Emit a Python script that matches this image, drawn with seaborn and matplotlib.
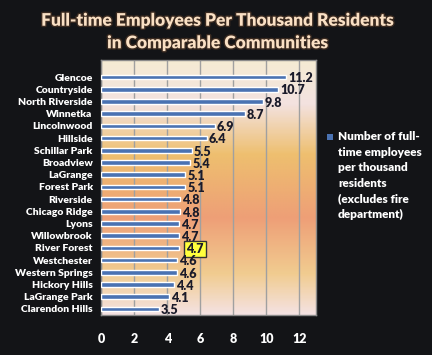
import numpy as np
import pandas as pd
import matplotlib
matplotlib.use("Agg")
import matplotlib.pyplot as plt
import matplotlib.patheffects as pe
from matplotlib.colors import LinearSegmentedColormap
from matplotlib.patches import Rectangle
import seaborn as sns

# datos del grafico
comunidades = ["Glencoe", "Countryside", "North Riverside", "Winnetka", "Lincolnwood",
               "Hillside", "Schillar Park", "Broadview", "LaGrange", "Forest Park",
               "Riverside", "Chicago Ridge", "Lyons", "Willowbrook", "River Forest",
               "Westchester", "Western Springs", "Hickory Hills", "LaGrange Park",
               "Clarendon Hills"]
empleados = [11.2, 10.7, 9.8, 8.7, 6.9, 6.4, 5.5, 5.4, 5.1, 5.1,
             4.8, 4.8, 4.7, 4.7, 4.7, 4.6, 4.6, 4.4, 4.1, 3.5]
destacado = "River Forest"
ticks_x = [0, 2, 4, 6, 8, 10, 12]
leyenda = ["Number of full-", "time employees", "per thousand", "residents",
           "(excludes fire", "department)"]

df = pd.DataFrame({"comunidad": comunidades, "valor": empleados})

sns.set_theme(style="white")
plt.rcParams['font.family'] = ['Lato', 'DejaVu Sans']

fondo = "#131417"
fig = plt.figure(figsize=(4.32, 3.55), dpi=100, facecolor=fondo)
pos = [0.2338, 0.1127, 0.4977, 0.7183]

# fondo degradado del area de trazado (vertical), en un eje aparte
cmap = LinearSegmentedColormap.from_list("fondo", [
    (0.0, "#f5ebd3"), (0.17, "#f3e2e0"), (0.37, "#eebf6f"),
    (0.62, "#ee9f77"), (0.84, "#f1cc90"), (1.0, "#f4e2e2")])
rgb = cmap(np.linspace(0, 1, 300))[:, :3]
grad = np.repeat(rgb[:, None, :], 4, axis=1)
ax_bg = fig.add_axes(pos, zorder=0)
ax_bg.imshow(grad, aspect="auto", extent=[0, 1, 0, 1], interpolation="bilinear")
ax_bg.axis("off")

ax = fig.add_axes(pos, zorder=1)
ax.set_facecolor("none")

sns.barplot(data=df, y="comunidad", x="valor", orient="h", color="#4a72b2",
            saturation=1, width=0.38, ax=ax, zorder=3)

ax.set_xlim(0, 13)
ax.set_ylim(19.5, -1.4)
ax.set_xticks(ticks_x)
ax.set_xticklabels([str(t) for t in ticks_x])
ax.grid(axis="x", color="#a0a0a0", linewidth=1, zorder=1)
ax.set_axisbelow(True)
ax.set_xlabel("")
ax.set_ylabel("")

for s in ax.spines.values():
    s.set_color("#8a8a8a")
    s.set_linewidth(1)
ax.tick_params(axis="both", colors="#8a8a8a", length=3, width=1, direction="out")
ax.tick_params(axis="x", labelcolor="white", labelsize=9, pad=10)
ax.tick_params(axis="y", labelcolor="white", labelsize=7.5, pad=3)
for t in ax.get_xticklabels() + ax.get_yticklabels():
    t.set_fontweight("heavy")

# etiquetas de valor
for i, (c, v) in enumerate(zip(comunidades, empleados)):
    if c == destacado:
        ax.text(v + 0.45, i + 0.1, f"{v}", va="center", ha="left", fontsize=9,
                fontweight="heavy", color="#1b1b2a", zorder=5,
                bbox=dict(boxstyle="square,pad=0.15", fc="#ffff3c", ec="#333333", lw=1))
    else:
        ax.text(v + 0.12, i + 0.1, f"{v}", va="center", ha="left", fontsize=9,
                fontweight="heavy", color="#1b1b2a", zorder=5)

# titulo
efecto = [pe.withStroke(linewidth=2, foreground="#3a2a20")]
fig.text(0.505, 1 - 32 / 355, "Full-time Employees Per Thousand Residents\nin Comparable Communities",
         ha="center", va="center", fontsize=12.5, fontweight="heavy", color="#fae0c4",
         linespacing=1.5, path_effects=efecto)

# leyenda (linea por linea para que el interlineado sea igual)
fig.patches.append(Rectangle((327 / 432, 1 - 140 / 355), 6 / 432, 6 / 355,
                             transform=fig.transFigure, facecolor="#4a72b2",
                             edgecolor="none"))
for k, linea in enumerate(leyenda):
    fig.text(338 / 432, 1 - (140 + k * 15.6) / 355, linea,
             ha="left", va="baseline", fontsize=8.5, fontweight="heavy", color="white")

fig.savefig("out.png", dpi=100, facecolor=fondo)
